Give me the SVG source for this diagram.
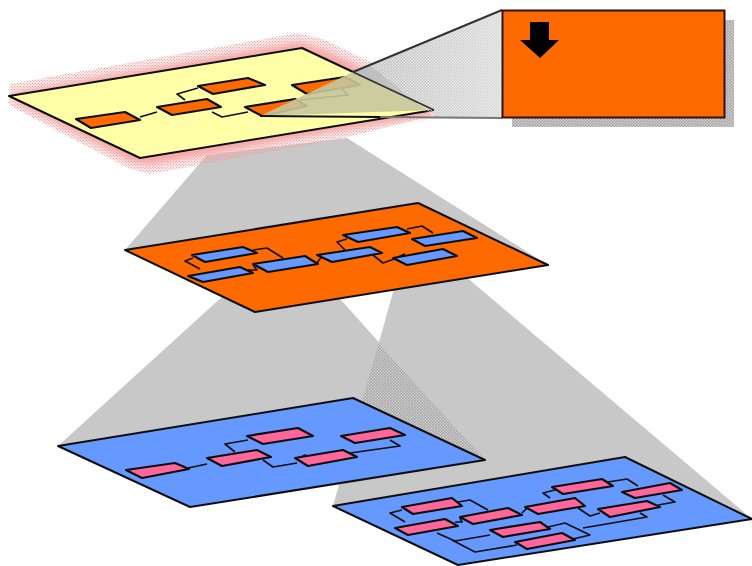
<svg xmlns="http://www.w3.org/2000/svg" width="752" height="566" viewBox="0 0 752 566">
<style>
.plane{stroke:#111;stroke-width:2;stroke-linejoin:round}
.yellow{fill:#ffffa8}.orange{fill:#ff6a00}.blue{fill:#6699ff}.pink{fill:#ff6699}
.block{stroke:#111;stroke-width:2.2;stroke-linejoin:round}
.wire{fill:none;stroke:#111;stroke-width:1.7;stroke-linejoin:round}
.funnel{fill:#c8c8c8}
.tip{fill:#111}
</style>
<defs>
<pattern id="dither" width="3" height="3" patternUnits="userSpaceOnUse">
<rect width="3" height="3" fill="#a6a6a6"/><circle cx="0.8" cy="0.8" r="0.7" fill="#e2e2e2"/><circle cx="2.3" cy="2.3" r="0.7" fill="#e2e2e2"/>
</pattern>
<pattern id="pinkdots" width="3" height="3" patternUnits="userSpaceOnUse">
<circle cx="0.8" cy="0.8" r="0.75" fill="#f0a0a0"/><circle cx="2.3" cy="2.3" r="0.75" fill="#f0a0a0"/>
</pattern>
<pattern id="whitedots" width="3" height="3" patternUnits="userSpaceOnUse">
<circle cx="0.8" cy="0.8" r="0.7" fill="#fff"/><circle cx="2.3" cy="2.3" r="0.7" fill="#fff"/>
</pattern>
<linearGradient id="fade" gradientUnits="userSpaceOnUse" x1="353" y1="0" x2="502" y2="0">
<stop offset="0" stop-color="#bcbcbc"/><stop offset="1" stop-color="#d8d8d8"/>
</linearGradient>
<filter id="soft" x="-5%" y="-5%" width="110%" height="110%"><feGaussianBlur stdDeviation="0.55"/></filter>
<filter id="glowblur" x="-10%" y="-30%" width="120%" height="160%"><feGaussianBlur stdDeviation="3"/></filter>
</defs>
<rect width="752" height="566" fill="#fff"/>
<g filter="url(#soft)">
<g id="projections">
<polygon class="funnel" points="207,155 347,138 548,265 255,312 125,250"/>
<polygon class="funnel" points="58,446 235,285 332,290 485,460 190,507"/>
<polygon class="funnel" points="395,285 465,276 752,519 458,565 333,506"/>
<polygon fill="url(#dither)" points="378.5,343.5 485,460 342,472"/>
</g>
<g id="glow">
<polygon points="10,84 298,33 325,40 440,96 447,112 335,140 150,174 128,168 9,105" fill="url(#pinkdots)"/>
<polygon points="16,92 300,42 325,50 432,102 438,114 330,132 148,165 132,162 16,102" fill="#f6a8a8" filter="url(#glowblur)"/>
</g>
<g id="callout-shadow"><rect x="512" y="20" width="222" height="107" fill="url(#dither)"/></g>
<g id="plane-top"><polygon class="plane yellow" points="9,96 302,48 434,110 140,158"/></g>
<g id="plane-middle"><polygon class="plane orange" points="125,250 418,203 548,265 255,312"/></g>
<g id="plane-left"><polygon class="plane blue" points="58,446 353,398 485,460 190,507"/></g>
<g id="plane-right"><polygon class="plane blue" points="333,506 625,457 752,519 458,565"/></g>
<g id="connectors">
<polyline class="wire" points="140,117 157,112"/>
<polyline class="wire" points="185,100 177,94 198,88"/>
<polyline class="wire" points="212,112 222,117 248,112"/>
<polyline class="wire" points="300,100 348,95 340,87"/>
<polygon class="tip" points="248,109 258,104 258,113"/>
<polyline class="wire" points="253,250 267,248 283,258"/>
<polyline class="wire" points="193,258 185,261 200,269"/>
<polyline class="wire" points="248,270 257,270 253,265"/>
<polyline class="wire" points="317,263 322,256"/>
<polyline class="wire" points="345,250 337,242 347,239"/>
<polyline class="wire" points="373,255 383,263 397,258"/>
<polyline class="wire" points="407,229 422,226 433,233"/>
<polygon class="tip" points="256,264 266,261 266,270"/>
<polygon class="tip" points="396,257 405,253 405,262"/>
<polyline class="wire" points="188,468 207,464"/>
<polyline class="wire" points="235,452 225,444 248,440"/>
<polyline class="wire" points="263,460 273,467 297,463"/>
<polyline class="wire" points="350,453 400,446 390,440"/>
<polygon class="tip" points="296,458 306,454 306,463"/>
<polyline class="wire" points="458,502 470,500 488,510"/>
<polyline class="wire" points="402,510 390,513 405,522"/>
<polyline class="wire" points="455,522 462,522 460,518"/>
<polyline class="wire" points="522,513 527,508"/>
<polyline class="wire" points="550,498 543,493 555,490"/>
<polyline class="wire" points="578,508 590,516 600,513"/>
<polyline class="wire" points="608,482 627,479 638,486"/>
<polyline class="wire" points="663,495 675,502 658,505"/>
<polyline class="wire" points="437,533 455,541 490,535"/>
<polyline class="wire" points="452,540 475,552 517,545"/>
<polyline class="wire" points="548,527 565,523 590,535 573,539"/>
<polyline class="wire" points="583,528 647,517 640,513"/>
</g>
<g id="blocks-top">
<g id="t1"><polygon class="block orange" points="76,119 125,112 140,120 91,128"/></g>
<g id="t2"><polygon class="block orange" points="157,107 207,99 221,107 172,115"/></g>
<g id="t3"><polygon class="block orange" points="198,86 248,78 265,85 213,94"/></g>
<g id="t4"><polygon class="block orange" points="245,107 295,99 307,106 262,116"/></g>
<g id="t5"><polygon class="block orange" points="292,85 345,77 360,85 307,94"/></g>
</g>
<g id="blocks-middle">
<g id="m1"><polygon class="block blue" points="192,255 243,247 257,253 205,262"/></g>
<g id="m2"><polygon class="block blue" points="188,276 240,267 253,273 203,282"/></g>
<g id="m3"><polygon class="block blue" points="253,264 305,256 318,264 268,272"/></g>
<g id="m4"><polygon class="block blue" points="317,255 370,247 382,253 332,262"/></g>
<g id="m5"><polygon class="block blue" points="343,235 397,227 410,233 358,242"/></g>
<g id="m6"><polygon class="block blue" points="412,239 463,231 477,238 425,246"/></g>
<g id="m7"><polygon class="block blue" points="393,258 443,249 457,256 407,265"/></g>
</g>
<g id="blocks-left">
<g id="l1"><polygon class="block pink" points="126,470 175,463 189,469 142,478"/></g>
<g id="l2"><polygon class="block pink" points="207,458 257,450 271,457 222,466"/></g>
<g id="l3"><polygon class="block pink" points="247,436 298,428 313,436 263,444"/></g>
<g id="l4"><polygon class="block pink" points="295,458 343,450 357,457 308,466"/></g>
<g id="l5"><polygon class="block pink" points="341,436 390,428 405,435 355,443"/></g>
</g>
<g id="blocks-right">
<g id="r1"><polygon class="block pink" points="402,507 452,498 462,506 413,514"/></g>
<g id="r2"><polygon class="block pink" points="395,528 445,519 458,526 408,535"/></g>
<g id="r3"><polygon class="block pink" points="460,517 508,508 522,515 473,524"/></g>
<g id="r4"><polygon class="block pink" points="525,507 575,498 585,506 538,514"/></g>
<g id="r5"><polygon class="block pink" points="552,487 602,479 613,486 563,494"/></g>
<g id="r6"><polygon class="block pink" points="622,492 670,483 682,490 635,498"/></g>
<g id="r7"><polygon class="block pink" points="598,509 647,501 660,507 610,517"/></g>
<g id="r8"><polygon class="block pink" points="490,530 540,522 550,529 503,537"/></g>
<g id="r9"><polygon class="block pink" points="515,542 562,533 575,540 527,549"/></g>
</g>
<g id="zoom-beam">
<polygon points="353,72 434,110 260,116" fill="#c6c69c" fill-opacity="0.9"/>
<polygon points="353,72 502,10 502,118 434,117 434,110" fill="url(#fade)"/>
<polygon points="370,65 502,10 502,118 434,117" fill="url(#whitedots)" opacity="0.8"/>
<line x1="353" y1="72" x2="434" y2="110" stroke="#333" stroke-width="1.5"/>
<line x1="353" y1="72" x2="502" y2="10" stroke="#333" stroke-width="2"/>
<line x1="260" y1="116" x2="380" y2="117" stroke="#111" stroke-width="1.8"/>
<line x1="380" y1="117" x2="502" y2="118" stroke="#777" stroke-width="1.8"/>
</g>
<g id="callout">
<rect x="502.5" y="10.5" width="222" height="107" fill="#ff6a00" stroke="#311" stroke-width="2"/>
<polygon points="530,22 549,22 549,40 559,40 540,58 520,40 530,40" fill="#000"/>
</g>
</g>
</svg>
